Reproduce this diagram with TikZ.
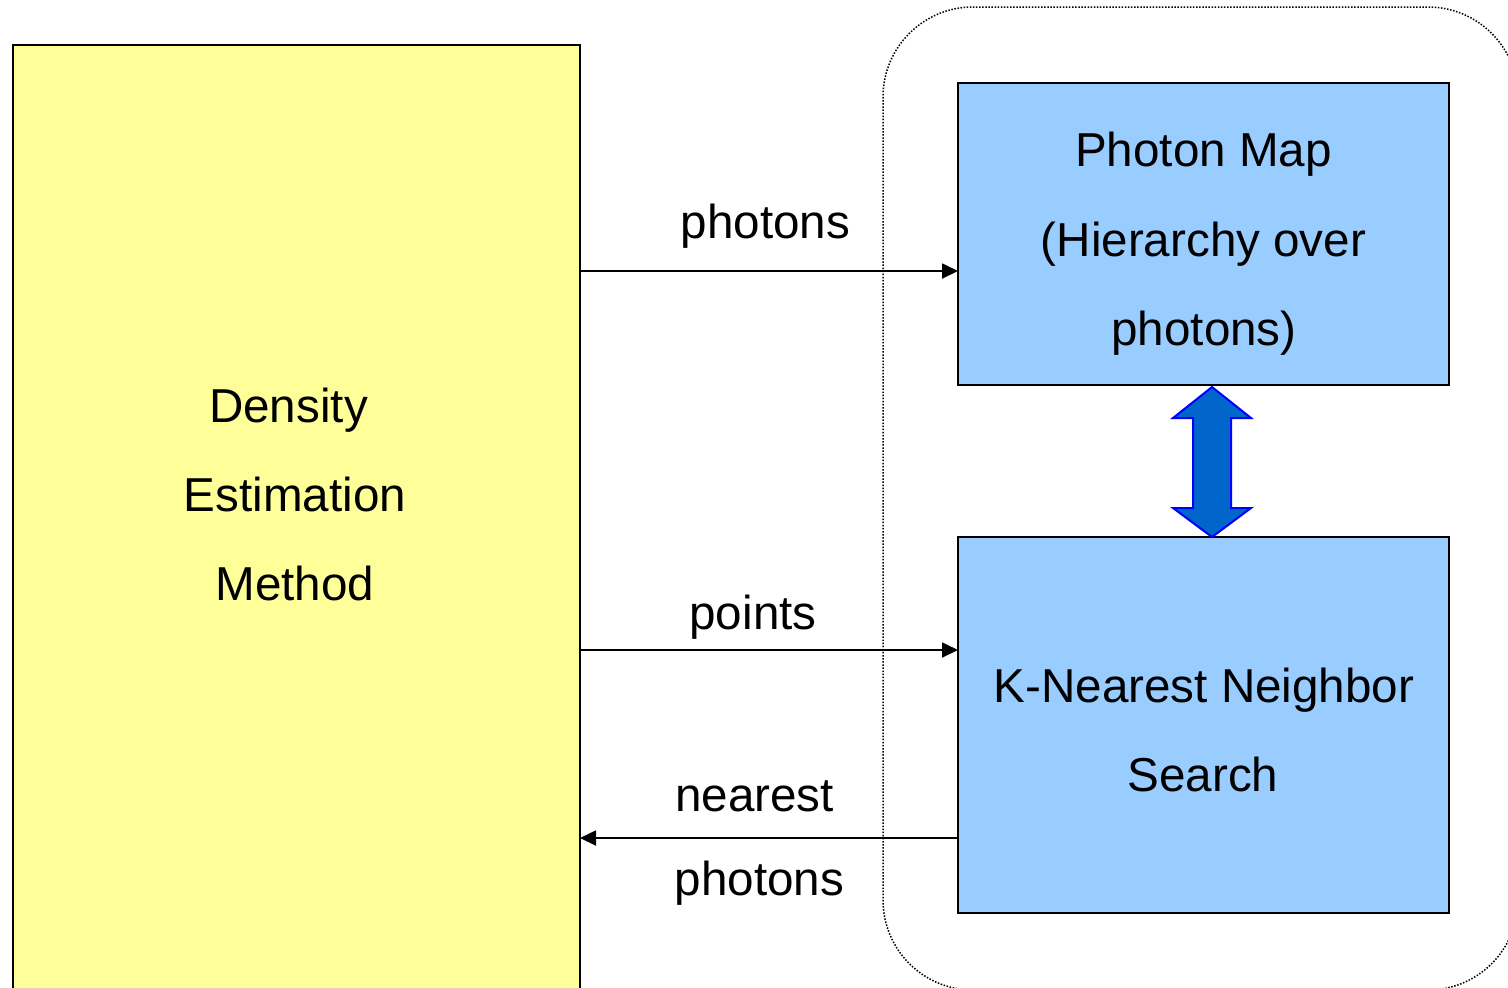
\documentclass[tikz,border=0pt]{standalone}
\usepackage{fontspec}
\setmainfont{Liberation Sans}
\usetikzlibrary{arrows.meta}
\definecolor{estyellow}{HTML}{FFFF99}
\definecolor{mapblue}{HTML}{99CCFF}
\definecolor{linkfill}{HTML}{0066CC}
\definecolor{linkedge}{HTML}{0000FF}
\tikzset{
  box/.style={draw=black, line width=1.2pt, outer sep=0pt, inner sep=0pt, anchor=north west},
  lbl/.style={anchor=base, inner sep=0pt, font=\fontsize{23.8}{28}\selectfont},
  flow/.style={line width=0.9pt, -{Triangle[length=8pt,width=7.5pt]}},
  group/.style={line width=0.75pt, dash pattern=on 0.75pt off 0.8pt, rounded corners=45pt},
  dblarrow/.style={fill=linkfill, draw=linkedge, line width=1pt, line join=miter}
}
\begin{document}
\begin{tikzpicture}[x=0.5pt, y=-0.5pt]
\useasboundingbox (0,0) rectangle (1508,987);
\clip (0,0) rectangle (1508,987);

% dotted grouping frame around the photon map and the search
\draw[group] (883,7) rectangle (1518,990);

% boxes
\node[box, fill=estyellow, minimum width=283.5pt, minimum height=485pt] (dem) at (13,45) {};
\node[box, fill=mapblue, minimum width=245.5pt, minimum height=151pt] (pm) at (958,83) {};
\node[box, fill=mapblue, minimum width=245.5pt, minimum height=188pt] (knn) at (958,537) {};

% box texts
\node[lbl] (t1) at (288.5,422) {Density};
\node[lbl] (t2) at (295,511) {Estimation};
\node[lbl] (t3) at (295,600) {Method};
\node[lbl] (p1) at (1203.5,166) {Photon Map};
\node[lbl] (p2) at (1203.5,256) {(Hierarchy over};
\node[lbl] (p3) at (1204,345) {photons)};
\node[lbl] (k1) at (1204,702) {K-Nearest Neighbor};
\node[lbl] (k2) at (1203,791) {Search};

% data flow between the estimator and the photon map / search
\draw[flow] (dem.east |- 0,271) -- (pm.west |- 0,271);
\draw[flow] (dem.east |- 0,650) -- (knn.west |- 0,650);
\draw[flow] (knn.west |- 0,838) -- (dem.east |- 0,838);

\node[lbl] (l1) at (765.5,238) {photons};
\node[lbl] (l2) at (753,629) {points};
\node[lbl] (l3) at (754.5,811) {nearest};
\node[lbl] (l4) at (759.5,895) {photons};

% two-way link between the photon map and the search
\draw[dblarrow] (1212,387) -- (1251,418) -- (1231,418) -- (1231,508) -- (1251,508)
  -- (1212,537) -- (1173,508) -- (1193,508) -- (1193,418) -- (1173,418) -- cycle;
\end{tikzpicture}
\end{document}
